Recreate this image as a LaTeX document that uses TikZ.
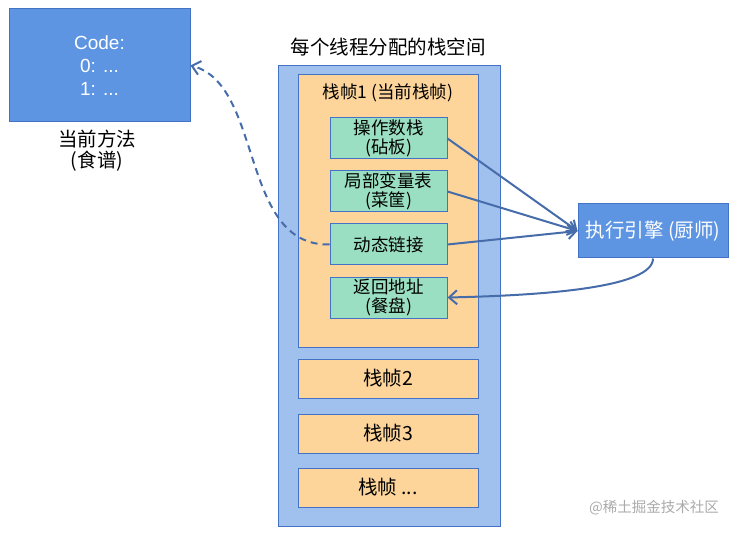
\documentclass[tikz,border=0pt]{standalone}
\usepackage{fontspec}
\setmainfont{Noto Sans CJK SC}
\newfontfamily\latinfont{Liberation Sans}
\usepackage{tikz}
\usetikzlibrary{arrows.meta, positioning}
\definecolor{boxblue}{RGB}{93,149,227}
\definecolor{edgeblue}{RGB}{68,114,196}
\definecolor{stackblue}{RGB}{160,192,238}
\definecolor{framepeach}{RGB}{253,213,155}
\definecolor{slotmint}{RGB}{154,223,193}
\definecolor{arrowblue}{RGB}{70,108,170}
\definecolor{markgray}{RGB}{170,170,170}

\begin{document}
\begin{tikzpicture}[x=1pt, y=-1pt,
  solid/.style={rectangle, draw=edgeblue, line width=1pt, fill=boxblue, text=white,
                align=center, inner sep=0pt, font=\fontsize{19.5}{23}\selectfont},
  stackbox/.style={rectangle, draw=edgeblue, line width=1pt, fill=stackblue,
                   minimum width=222pt, minimum height=460pt, inner sep=0pt},
  frame/.style={rectangle, draw=edgeblue, line width=1pt, fill=framepeach,
                minimum width=180pt, minimum height=#1, inner sep=0pt,
                font=\fontsize{19.5}{20}\selectfont},
  slot/.style={rectangle, draw=edgeblue, line width=1pt, fill=slotmint, align=center,
               minimum width=117pt, minimum height=41pt, inner sep=0pt,
               font=\fontsize{17.5}{19.5}\selectfont},
  lbl/.style={align=center, inner sep=0pt, font=\fontsize{19.5}{21}\selectfont},
  arr/.style={-{Straight Barb[length=8pt, width=14pt]}, line width=2pt, arrowblue},
]
  \useasboundingbox (0,0) rectangle (735,534);

  % method box
  \node[solid, minimum width=181pt, minimum height=113pt, font=\latinfont\fontsize{19}{23}\selectfont]
       (code) at (99.5,65.5) {Code:\\0: ...\\1: ...};
  \node[lbl] (method) at (97,151) {当前方法\\(食谱)};

  % stack of one thread
  \node[lbl] (title) at (388,47) {每个线程分配的栈空间};
  \node[stackbox] (stack) at (389,296) {};
  \node[frame=272pt] (f1) at (388,211) {};
  \node[lbl, font=\fontsize{17.5}{20}\selectfont] (f1title) at (388,93) {栈帧1 (当前栈帧)};
  \node[slot] (ops) at (388.5,138.5) {操作数栈\\(砧板)};
  \node[slot] (vars) at (388.5,191.5) {局部变量表\\(菜筐)};
  \node[slot] (link) at (388.5,244.5) {动态链接};
  \node[slot] (ret) at (388.5,297.5) {返回地址\\(餐盘)};
  \node[frame=39pt] (f2) at (388,378.5) {栈帧2};
  \node[frame=39pt] (f3) at (388,433.5) {栈帧3};
  \node[frame=39pt] (fn) at (388,487.5) {栈帧 ...};

  % engine
  \node[solid, minimum width=150pt, minimum height=54pt] (eng) at (653,231) {执行引擎 (厨师)};

  \draw[arr] (ops.east) -- (eng.west);
  \draw[arr] (vars.east) -- (eng.west);
  \draw[arr] (link.east) -- (eng.west);
  \draw[arr] (eng.south) .. controls +(0,30) and +(90,-2) .. (ret.east);
  \draw[arr, dashed, dash pattern=on 7pt off 5pt] (link.west) .. controls +(-90,2) and +(73,19) .. (code.east);

  \node[anchor=east, text=markgray, inner sep=0pt, font=\fontsize{14.5}{16}\selectfont]
       (mark) at (719,508) {@稀土掘金技术社区};
\end{tikzpicture}
\end{document}
